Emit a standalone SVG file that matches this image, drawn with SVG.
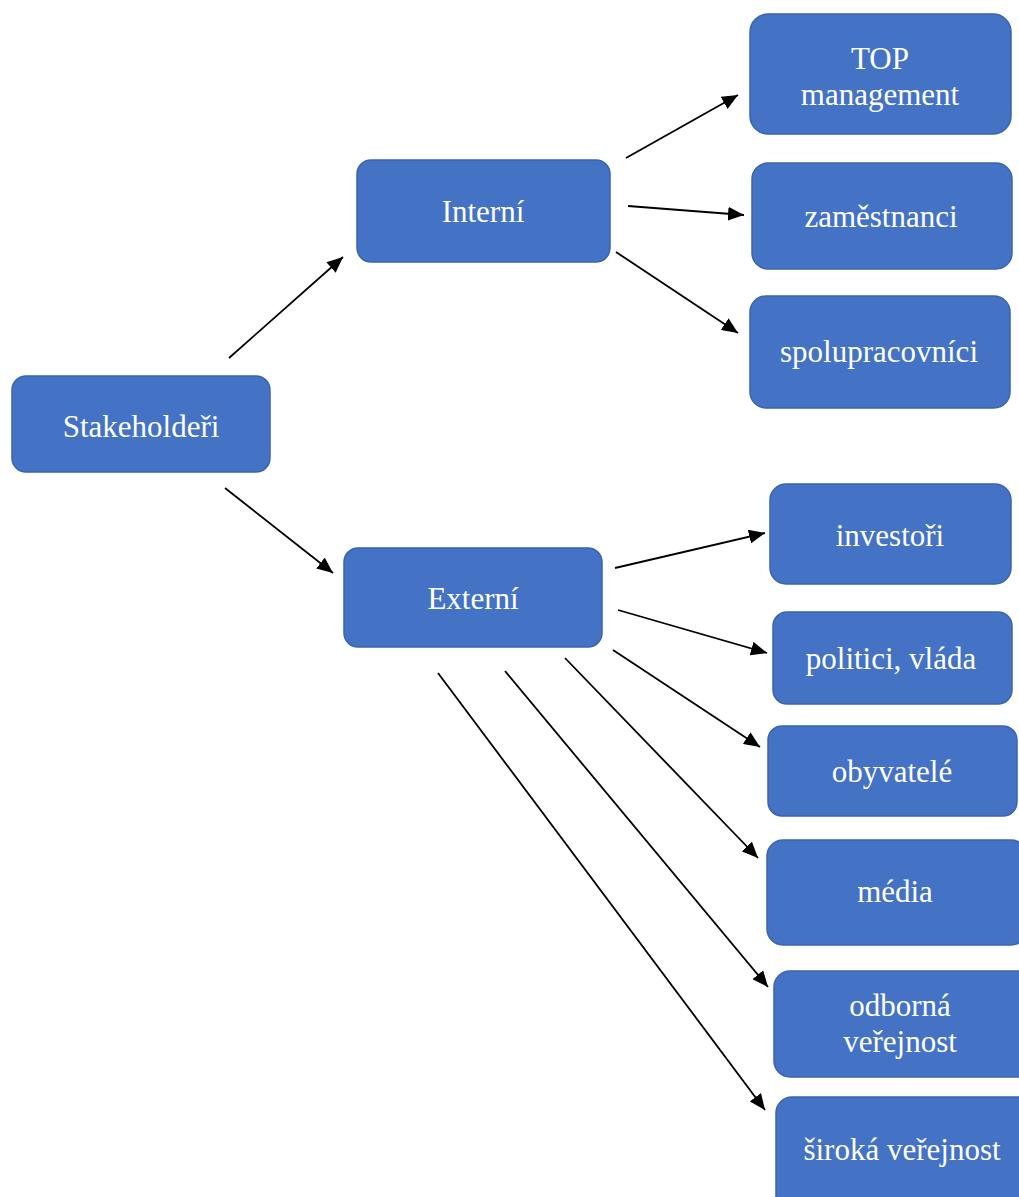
<svg xmlns="http://www.w3.org/2000/svg" width="1019" height="1197" viewBox="0 0 1019 1197">
<defs>
<style>
.box{fill:#4472C4;stroke:#3B64AD;stroke-width:1.5}
.t{font-family:"Liberation Serif","Times New Roman",serif;font-size:31px;fill:#ffffff;text-anchor:middle}
.c{stroke:#000;stroke-width:1.8;fill:none;marker-end:url(#ah)}
</style>
<marker id="ah" markerUnits="userSpaceOnUse" markerWidth="17" markerHeight="14" refX="16" refY="7" orient="auto">
<path d="M0,0 L16,7 L0,14 z" fill="#000"/>
</marker>
</defs>
<rect width="1019" height="1197" fill="#fff"/>
<g id="connectors">
<line class="c" x1="229" y1="358" x2="343" y2="257"/>
<line class="c" x1="225" y1="488" x2="333" y2="573"/>
<line class="c" x1="626" y1="158" x2="738" y2="95"/>
<line class="c" x1="628" y1="206" x2="744" y2="215"/>
<line class="c" x1="616" y1="252" x2="738" y2="333"/>
<line class="c" x1="615" y1="568" x2="765" y2="533"/>
<line class="c" x1="618" y1="610" x2="767" y2="653"/>
<line class="c" x1="613" y1="650" x2="760" y2="747"/>
<line class="c" x1="565" y1="658" x2="758" y2="858"/>
<line class="c" x1="505" y1="671" x2="768" y2="987"/>
<line class="c" x1="438" y1="673" x2="765" y2="1110"/>
</g>
<g id="stakeholderi"><rect class="box" x="12" y="376" width="258" height="96" rx="14"/><text class="t" x="141" y="437">Stakeholdeři</text></g>
<g id="interni"><rect class="box" x="357" y="160" width="253" height="102" rx="14"/><text class="t" x="483" y="222">Interní</text></g>
<g id="externi"><rect class="box" x="344" y="548" width="258" height="99" rx="14"/><text class="t" x="473" y="609">Externí</text></g>
<g id="top"><rect class="box" x="750" y="14" width="261" height="120" rx="18"/><text class="t" x="880" y="69">TOP</text><text class="t" x="880" y="105">management</text></g>
<g id="zamestnanci"><rect class="box" x="752" y="163" width="260" height="106" rx="16"/><text class="t" x="881" y="227">zaměstnanci</text></g>
<g id="spolupracovnici"><rect class="box" x="750" y="296" width="260" height="112" rx="16"/><text class="t" x="879" y="362">spolupracovníci</text></g>
<g id="investori"><rect class="box" x="770" y="484" width="241" height="100" rx="16"/><text class="t" x="890" y="546">investoři</text></g>
<g id="politici"><rect class="box" x="773" y="612" width="239" height="92" rx="14"/><text class="t" x="891" y="669">politici, vláda</text></g>
<g id="obyvatele"><rect class="box" x="768" y="726" width="249" height="90" rx="14"/><text class="t" x="892" y="782">obyvatelé</text></g>
<g id="media"><rect class="box" x="767" y="840" width="260" height="105" rx="16"/><text class="t" x="895" y="902">média</text></g>
<g id="odborna"><rect class="box" x="774" y="971" width="260" height="106" rx="16"/><text class="t" x="900" y="1016">odborná</text><text class="t" x="900" y="1052">veřejnost</text></g>
<g id="siroka"><rect class="box" x="776" y="1097" width="260" height="120" rx="16"/><text class="t" x="902" y="1160">široká veřejnost</text></g>
</svg>
